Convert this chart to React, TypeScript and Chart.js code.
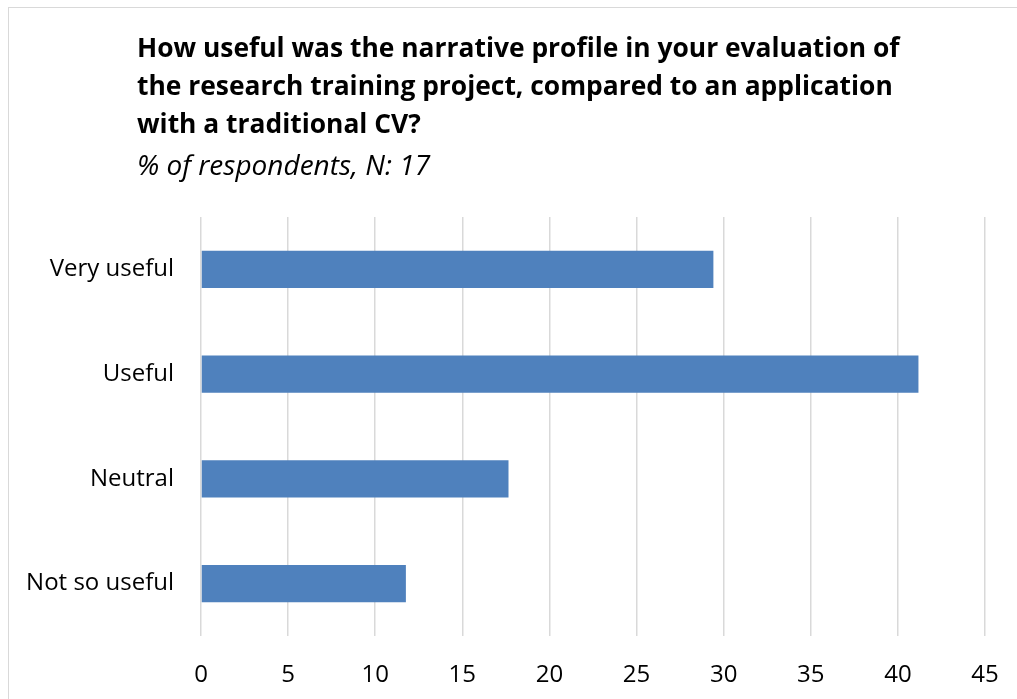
import React, { useEffect, useRef } from "react";
import { Chart, registerables } from "chart.js";

Chart.register(...registerables);

const categories = ["Very useful", "Useful", "Neutral", "Not so useful"];
const percentValues = [29.41, 41.18, 17.65, 11.76];
const titleLines = [
  "How useful was the narrative profile in your evaluation of",
  "the research training project, compared to an application",
  "with a traditional CV?",
];
const subtitleText = "% of respondents, N: 17";
const xMin = 0;
const xMax = 45;
const xStep = 5;

const FONT = "'Open Sans', Lato, sans-serif";

const titlePlugin = {
  id: "leftTitle",
  afterDraw(chart: any) {
    const ctx = chart.ctx;
    ctx.save();
    ctx.fillStyle = "#000000";
    ctx.textAlign = "left";
    ctx.textBaseline = "alphabetic";
    ctx.font = `bold 26.4px ${FONT}`;
    const baselines = [49, 87, 125];
    titleLines.forEach((line, i) => ctx.fillText(line, 128, baselines[i]));
    ctx.font = `italic 28px ${FONT}`;
    ctx.fillText(subtitleText, 128, 167);
    ctx.restore();
  },
};

export default function App() {
  const ref = useRef<HTMLCanvasElement>(null);
  useEffect(() => {
    if (!ref.current) return;
    const chart = new Chart(ref.current, {
      type: "bar",
      data: {
        labels: categories,
        datasets: [
          {
            data: percentValues,
            backgroundColor: "#4F81BD",
            borderWidth: 0,
            barPercentage: 0.355,
            categoryPercentage: 1,
          },
        ],
      },
      options: {
        indexAxis: "y",
        responsive: false,
        animation: false,
        layout: { padding: { top: 209, right: 32, bottom: 0, left: 0 } },
        plugins: {
          legend: { display: false },
          tooltip: { enabled: false },
          title: { display: false },
        },
        scales: {
          x: {
            min: xMin,
            max: xMax,
            afterFit: (scale: any) => {
              scale.height = 63;
              scale.paddingLeft = 0;
              scale.paddingRight = 0;
            },
            ticks: {
              stepSize: xStep,
              padding: 25,
              color: "#000000",
              font: { family: FONT, size: 24 },
            },
            grid: { color: "#d9d9d9", lineWidth: 1.5, drawTicks: false },
            border: { display: false },
          },
          y: {
            afterFit: (scale: any) => {
              scale.width = 192;
              scale.paddingTop = 0;
              scale.paddingBottom = 0;
            },
            ticks: {
              padding: 27,
              color: "#000000",
              font: { family: FONT, size: 24 },
            },
            grid: { display: false, drawTicks: false },
            border: { display: false },
          },
        },
      },
      plugins: [titlePlugin],
    });
    return () => chart.destroy();
  }, []);
  return (
    <div
      style={{
        position: "fixed",
        left: 8,
        top: 7,
        width: 1009,
        height: 692,
        borderTop: "1px solid #d9d9d9",
        borderLeft: "1px solid #d9d9d9",
        background: "#ffffff",
      }}
    >
      <canvas ref={ref} width={1008} height={691} style={{ display: "block" }} />
    </div>
  );
}
